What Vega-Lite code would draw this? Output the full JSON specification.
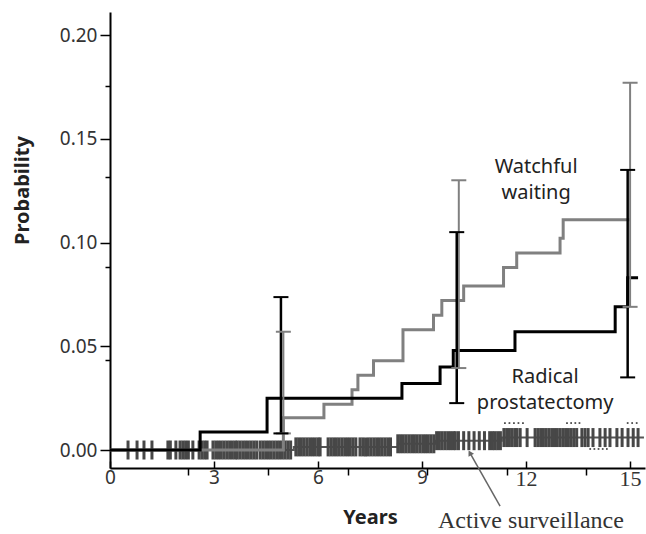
{
  "$schema": "https://vega.github.io/schema/vega-lite/v6.json",
  "width": 535,
  "height": 456,
  "autosize": {"type": "none"},
  "padding": {"left": 110, "top": 12, "right": 1, "bottom": 66},
  "background": "white",
  "config": {"view": {"stroke": null}, "font": "Noto Sans"},
  "datasets": {
    "curves": [
      {"series": "AS", "x": 0, "y": 0}, {"series": "AS", "x": 5.3, "y": 0.0015}, {"series": "AS", "x": 8.3, "y": 0.003}, {"series": "AS", "x": 9.4, "y": 0.0045}, {"series": "AS", "x": 11.3, "y": 0.006}, {"series": "AS", "x": 15.4, "y": 0.006},
      {"series": "WW", "x": 0, "y": 0}, {"series": "WW", "x": 5.0, "y": 0.0155}, {"series": "WW", "x": 6.17, "y": 0.022}, {"series": "WW", "x": 6.98, "y": 0.029}, {"series": "WW", "x": 7.15, "y": 0.036}, {"series": "WW", "x": 7.6, "y": 0.043}, {"series": "WW", "x": 8.45, "y": 0.058}, {"series": "WW", "x": 9.33, "y": 0.065}, {"series": "WW", "x": 9.57, "y": 0.072}, {"series": "WW", "x": 10.2, "y": 0.079}, {"series": "WW", "x": 11.35, "y": 0.088}, {"series": "WW", "x": 11.73, "y": 0.095}, {"series": "WW", "x": 12.98, "y": 0.102}, {"series": "WW", "x": 13.07, "y": 0.111}, {"series": "WW", "x": 15.0, "y": 0.111},
      {"series": "RP", "x": 0, "y": 0}, {"series": "RP", "x": 2.6, "y": 0.0087}, {"series": "RP", "x": 4.53, "y": 0.025}, {"series": "RP", "x": 8.42, "y": 0.032}, {"series": "RP", "x": 9.52, "y": 0.04}, {"series": "RP", "x": 9.9, "y": 0.048}, {"series": "RP", "x": 11.68, "y": 0.057}, {"series": "RP", "x": 14.57, "y": 0.069}, {"series": "RP", "x": 14.93, "y": 0.083}, {"series": "RP", "x": 15.23, "y": 0.083}
    ],
    "cens": [
      {"x": 0.52, "y": 0}, {"x": 0.78, "y": 0}, {"x": 0.98, "y": 0}, {"x": 1.21, "y": 0}, {"x": 1.67, "y": 0}, {"x": 1.74, "y": 0}, {"x": 1.9, "y": 0}, {"x": 2.02, "y": 0}, {"x": 2.1, "y": 0}, {"x": 2.18, "y": 0}, {"x": 2.26, "y": 0}, {"x": 2.39, "y": 0}, {"x": 2.57, "y": 0}, {"x": 2.65, "y": 0}, {"x": 2.73, "y": 0}, {"x": 2.8, "y": 0}, {"x": 2.97, "y": 0}, {"x": 3.05, "y": 0}, {"x": 3.13, "y": 0}, {"x": 3.21, "y": 0}, {"x": 3.29, "y": 0}, {"x": 3.37, "y": 0}, {"x": 3.45, "y": 0}, {"x": 3.53, "y": 0}, {"x": 3.61, "y": 0}, {"x": 3.67, "y": 0}, {"x": 3.75, "y": 0}, {"x": 3.83, "y": 0}, {"x": 3.91, "y": 0}, {"x": 3.99, "y": 0}, {"x": 4.07, "y": 0}, {"x": 4.15, "y": 0}, {"x": 4.23, "y": 0}, {"x": 4.33, "y": 0}, {"x": 4.41, "y": 0}, {"x": 4.49, "y": 0}, {"x": 4.57, "y": 0}, {"x": 4.65, "y": 0}, {"x": 4.73, "y": 0}, {"x": 4.81, "y": 0}, {"x": 4.89, "y": 0}, {"x": 4.97, "y": 0}, {"x": 5.05, "y": 0}, {"x": 5.13, "y": 0}, {"x": 5.21, "y": 0},
      {"x": 5.36, "y": 0.0015}, {"x": 5.44, "y": 0.0015}, {"x": 5.52, "y": 0.0015}, {"x": 5.6, "y": 0.0015}, {"x": 5.68, "y": 0.0015}, {"x": 5.76, "y": 0.0015}, {"x": 5.84, "y": 0.0015}, {"x": 5.92, "y": 0.0015}, {"x": 6.0, "y": 0.0015}, {"x": 6.06, "y": 0.0015}, {"x": 6.29, "y": 0.0015}, {"x": 6.37, "y": 0.0015}, {"x": 6.45, "y": 0.0015}, {"x": 6.53, "y": 0.0015}, {"x": 6.61, "y": 0.0015}, {"x": 6.69, "y": 0.0015}, {"x": 6.77, "y": 0.0015}, {"x": 6.85, "y": 0.0015}, {"x": 6.93, "y": 0.0015}, {"x": 7.01, "y": 0.0015}, {"x": 7.09, "y": 0.0015}, {"x": 7.21, "y": 0.0015}, {"x": 7.29, "y": 0.0015}, {"x": 7.37, "y": 0.0015}, {"x": 7.45, "y": 0.0015}, {"x": 7.53, "y": 0.0015}, {"x": 7.61, "y": 0.0015}, {"x": 7.69, "y": 0.0015}, {"x": 7.77, "y": 0.0015}, {"x": 7.85, "y": 0.0015}, {"x": 7.93, "y": 0.0015}, {"x": 8.01, "y": 0.0015}, {"x": 8.09, "y": 0.0015},
      {"x": 8.3, "y": 0.003}, {"x": 8.38, "y": 0.003}, {"x": 8.46, "y": 0.003}, {"x": 8.54, "y": 0.003}, {"x": 8.62, "y": 0.003}, {"x": 8.7, "y": 0.003}, {"x": 8.78, "y": 0.003}, {"x": 8.86, "y": 0.003}, {"x": 8.94, "y": 0.003}, {"x": 9.02, "y": 0.003}, {"x": 9.1, "y": 0.003}, {"x": 9.18, "y": 0.003}, {"x": 9.26, "y": 0.003}, {"x": 9.34, "y": 0.003},
      {"x": 9.42, "y": 0.0045}, {"x": 9.5, "y": 0.0045}, {"x": 9.58, "y": 0.0045}, {"x": 9.66, "y": 0.0045}, {"x": 9.74, "y": 0.0045}, {"x": 9.82, "y": 0.0045}, {"x": 9.9, "y": 0.0045}, {"x": 9.96, "y": 0.0045}, {"x": 10.05, "y": 0.0045}, {"x": 10.2, "y": 0.0045}, {"x": 10.35, "y": 0.0045}, {"x": 10.5, "y": 0.0045}, {"x": 10.65, "y": 0.0045}, {"x": 10.8, "y": 0.0045}, {"x": 10.95, "y": 0.0045}, {"x": 11.03, "y": 0.0045}, {"x": 11.1, "y": 0.0045}, {"x": 11.18, "y": 0.0045}, {"x": 11.26, "y": 0.0045},
      {"x": 11.36, "y": 0.006}, {"x": 11.44, "y": 0.006}, {"x": 11.52, "y": 0.006}, {"x": 11.6, "y": 0.006}, {"x": 11.68, "y": 0.006}, {"x": 11.74, "y": 0.006}, {"x": 11.83, "y": 0.006}, {"x": 12.03, "y": 0.006}, {"x": 12.26, "y": 0.006}, {"x": 12.34, "y": 0.006}, {"x": 12.42, "y": 0.006}, {"x": 12.5, "y": 0.006}, {"x": 12.58, "y": 0.006}, {"x": 12.66, "y": 0.006}, {"x": 12.74, "y": 0.006}, {"x": 12.82, "y": 0.006}, {"x": 12.9, "y": 0.006}, {"x": 12.98, "y": 0.006}, {"x": 13.06, "y": 0.006}, {"x": 13.14, "y": 0.006}, {"x": 13.22, "y": 0.006}, {"x": 13.3, "y": 0.006}, {"x": 13.38, "y": 0.006}, {"x": 13.46, "y": 0.006}, {"x": 13.61, "y": 0.006}, {"x": 13.7, "y": 0.006}, {"x": 13.79, "y": 0.006}, {"x": 13.93, "y": 0.006}, {"x": 14.13, "y": 0.006}, {"x": 14.28, "y": 0.006}, {"x": 14.42, "y": 0.006}, {"x": 14.62, "y": 0.006}, {"x": 14.77, "y": 0.006}, {"x": 14.94, "y": 0.006}, {"x": 15.09, "y": 0.006}, {"x": 15.23, "y": 0.006}
    ],
    "dots": [
      {"x": 11.39, "y": 0.013}, {"x": 11.52, "y": 0.013}, {"x": 11.65, "y": 0.013}, {"x": 11.78, "y": 0.013}, {"x": 11.91, "y": 0.013},
      {"x": 13.18, "y": 0.013}, {"x": 13.3, "y": 0.013}, {"x": 13.42, "y": 0.013}, {"x": 13.54, "y": 0.013},
      {"x": 14.93, "y": 0.013}, {"x": 15.06, "y": 0.013}, {"x": 15.19, "y": 0.013},
      {"x": 13.85, "y": 0.0005}, {"x": 13.97, "y": 0.0005}, {"x": 14.09, "y": 0.0005}, {"x": 14.21, "y": 0.0005}, {"x": 14.33, "y": 0.0005}
    ],
    "errbars": [
      {"series": "WW", "x": 5.0, "y": 0.008, "y2": 0.057},
      {"series": "WW", "x": 10.06, "y": 0.0395, "y2": 0.13},
      {"series": "WW", "x": 15.0, "y": 0.069, "y2": 0.177},
      {"series": "RP", "x": 4.93, "y": 0.008, "y2": 0.0737},
      {"series": "RP", "x": 10.0, "y": 0.0226, "y2": 0.105},
      {"series": "RP", "x": 14.93, "y": 0.035, "y2": 0.135}
    ],
    "caps": [
      {"series": "WW", "x": 5.0, "y": 0.008}, {"series": "WW", "x": 5.0, "y": 0.057},
      {"series": "WW", "x": 10.06, "y": 0.0395}, {"series": "WW", "x": 10.06, "y": 0.13},
      {"series": "WW", "x": 15.0, "y": 0.069}, {"series": "WW", "x": 15.0, "y": 0.177},
      {"series": "RP", "x": 4.93, "y": 0.008}, {"series": "RP", "x": 4.93, "y": 0.0737},
      {"series": "RP", "x": 10.0, "y": 0.0226}, {"series": "RP", "x": 10.0, "y": 0.105},
      {"series": "RP", "x": 14.93, "y": 0.035}, {"series": "RP", "x": 14.93, "y": 0.135}
    ],
    "labels": [
      {"x": 12.29, "y": 0.1335, "label": "Watchful\nwaiting"},
      {"x": 12.55, "y": 0.0323, "label": "Radical\nprostatectomy"}
    ],
    "aslabel": [
      {"x": 12.14, "y": -0.0376, "label": "Active surveillance"}
    ],
    "arrow": [
      {"x": 11.25, "y": -0.027, "x2": 10.38, "y2": -0.0014}
    ],
    "arrowhead": [
      {"x": 10.38, "y": -0.0014}
    ]
  },
  "encoding": {
    "x": {
      "field": "x", "type": "quantitative",
      "scale": {"domain": [0, 15.43], "nice": false, "zero": false},
      "axis": {
        "values": [0, 3, 6, 9, 12, 15, 2.26, 4.56, 6.86, 9.15, 11.44, 13.73],
        "format": "d",
        "labelExpr": "datum.value % 3 == 0 ? datum.label : ''",
        "grid": false,
        "domainColor": "#000", "domainWidth": 2,
        "tickColor": "#000", "tickWidth": 1.5,
        "tickSize": {"condition": {"test": "datum.value % 3 == 0", "value": -7}, "value": 7},
        "labelPadding": 7,
        "labelFlush": false, "labelOverlap": false,
        "labelColor": "#333",
        "labelFont": {"condition": {"test": "datum.value >= 12", "value": "Liberation Serif"}, "value": "Noto Sans"},
        "labelFontSize": {"condition": {"test": "datum.value >= 12", "value": 22}, "value": 19},
        "title": "Years",
        "titleFont": "Noto Sans", "titleFontWeight": "bold", "titleFontSize": 20, "titleColor": "#222",
        "titleX": 260, "titleY": 49, "titleBaseline": "middle", "titleAlign": "center"
      }
    },
    "y": {
      "field": "y", "type": "quantitative",
      "scale": {"domain": [-0.00867, 0.2111], "nice": false, "zero": false},
      "axis": {
        "values": [0, 0.05, 0.1, 0.15, 0.2, 0.0434, 0.088, 0.1317, 0.1754],
        "format": ".2f",
        "labelExpr": "round(datum.value*100) % 5 == 0 ? datum.label : ''",
        "grid": false,
        "domainColor": "#000", "domainWidth": 2,
        "tickColor": "#000", "tickWidth": 1.5,
        "tickSize": {"condition": {"test": "round(datum.value*100) % 5 != 0", "value": 5}, "value": 10},
        "labelPadding": 3,
        "labelColor": "#333", "labelFont": "Noto Sans", "labelFontSize": 19,
        "title": "Probability",
        "titleFont": "Noto Sans", "titleFontWeight": "bold", "titleFontSize": 20, "titleColor": "#222",
        "titleAngle": -90, "titleX": -88, "titleY": 178, "titleBaseline": "middle", "titleAlign": "center"
      }
    }
  },
  "layer": [
    {
      "data": {"name": "curves"},
      "transform": [{"filter": "datum.series == 'AS'"}],
      "mark": {"type": "line", "interpolate": "step-after", "color": "#555", "strokeWidth": 2}
    },
    {
      "data": {"name": "cens"},
      "mark": {"type": "tick", "orient": "vertical", "size": 19, "thickness": 3, "color": "#474747", "opacity": 1}
    },
    {
      "data": {"name": "dots"},
      "mark": {"type": "square", "size": 3, "color": "#444", "opacity": 1}
    },
    {
      "data": {"name": "curves"},
      "transform": [{"filter": "datum.series != 'AS'"}],
      "mark": {"type": "line", "interpolate": "step-after", "strokeWidth": 3},
      "encoding": {
        "color": {"field": "series", "type": "nominal", "scale": {"domain": ["WW", "RP"], "range": ["#808080", "#000000"]}, "legend": null},
        "order": {"field": "x", "type": "quantitative"}
      }
    },
    {
      "data": {"name": "errbars"},
      "mark": {"type": "rule"},
      "encoding": {
        "y2": {"field": "y2"},
        "color": {"field": "series", "type": "nominal", "scale": {"domain": ["WW", "RP"], "range": ["#808080", "#000000"]}, "legend": null},
        "strokeWidth": {"field": "series", "type": "nominal", "scale": {"domain": ["WW", "RP"], "range": [2, 2.5]}, "legend": null}
      }
    },
    {
      "data": {"name": "caps"},
      "mark": {"type": "tick", "orient": "horizontal", "size": 15, "thickness": 2, "opacity": 1},
      "encoding": {
        "color": {"field": "series", "type": "nominal", "scale": {"domain": ["WW", "RP"], "range": ["#808080", "#000000"]}, "legend": null}
      }
    },
    {
      "data": {"name": "labels"},
      "mark": {"type": "text", "lineBreak": "\n", "align": "center", "baseline": "alphabetic", "font": "Noto Sans", "fontSize": 20, "lineHeight": 26, "color": "#222"},
      "encoding": {"text": {"field": "label"}}
    },
    {
      "data": {"name": "aslabel"},
      "mark": {"type": "text", "align": "center", "baseline": "alphabetic", "font": "Liberation Serif", "fontSize": 24, "color": "#333"},
      "encoding": {"text": {"field": "label"}}
    },
    {
      "data": {"name": "arrow"},
      "mark": {"type": "rule", "color": "#666", "strokeWidth": 1.5},
      "encoding": {"x2": {"field": "x2"}, "y2": {"field": "y2"}}
    },
    {
      "data": {"name": "arrowhead"},
      "mark": {"type": "point", "shape": "triangle-up", "angle": -29, "size": 40, "filled": true, "color": "#666", "opacity": 1}
    }
  ]
}
